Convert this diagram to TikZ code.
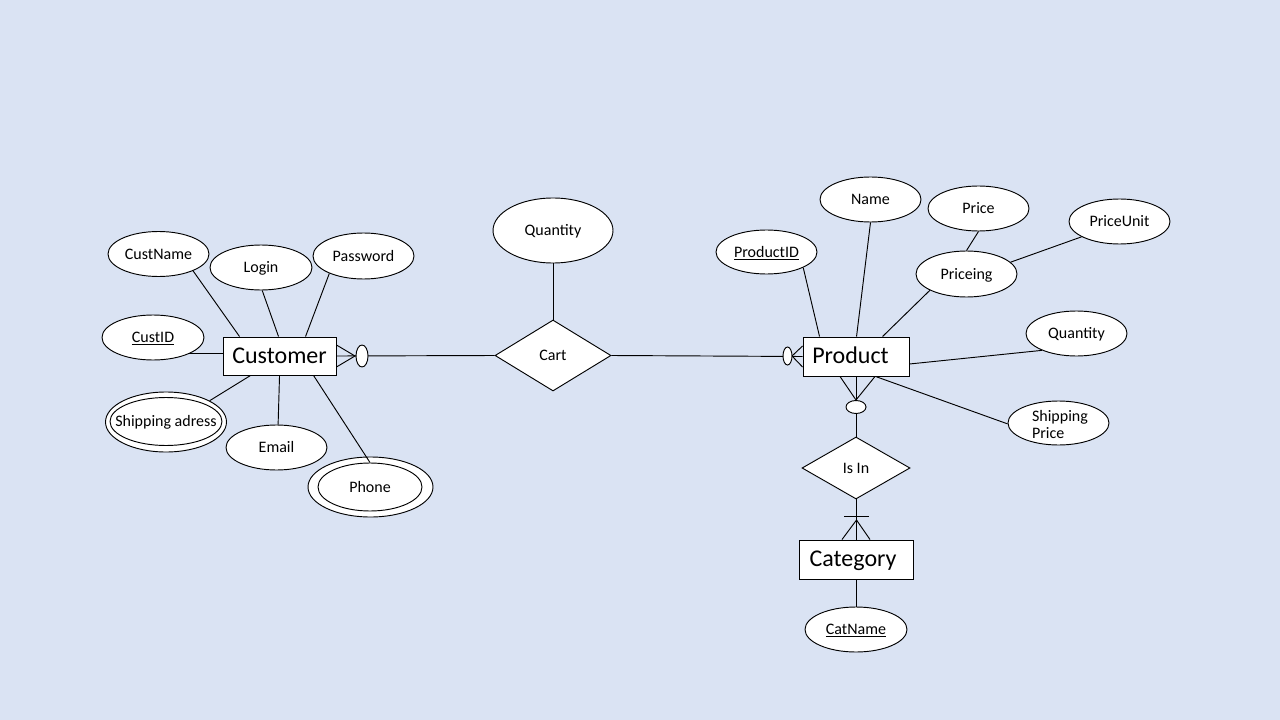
\documentclass[tikz,border=0pt]{standalone}
\usepackage{fontspec}
\setmainfont{Carlito}
\usetikzlibrary{shapes.geometric,calc}
\definecolor{bg}{RGB}{218,227,243}
\newdimen\px \px=0.75pt
\begin{document}
\begin{tikzpicture}[x=0.75pt,y=-0.75pt, line width=0.7pt,
 txs/.style={text height=9.9pt,text depth=2.1pt},
 txl/.style={text height=14.4pt,text depth=3.6pt},
 attrbase/.style={ellipse,draw,fill=white,minimum width=101\px,minimum height=45\px,inner sep=0pt,font=\fontsize{12}{14.4}\selectfont},
 attr/.style={attrbase,txs},
 ent/.style={rectangle,draw,fill=white,inner sep=0pt,font=\fontsize{18}{22}\selectfont,txl},
 rel/.style={diamond,draw,fill=white,inner sep=0pt,font=\fontsize{12}{14}\selectfont,txs},
 opt/.style={ellipse,draw,fill=white,inner sep=0pt}
 ]
\fill[bg] (0,0) rectangle (1280,720);
\useasboundingbox (0,0) rectangle (1280,720);

% relationships and entities
\node[rel,minimum width=116\px,minimum height=71\px] (Cart) at (553,355.5) {Cart};
\node[rel,minimum width=108\px,minimum height=62\px] (IsIn) at (856,468) {Is In};
\node[ent,minimum width=113\px,minimum height=38\px] (Customer) at (279.5,356) {Customer};
\node[ent,minimum width=106\px,minimum height=39\px] (Product) at (856,356.5) {\kern-11\px Product};
\node[ent,minimum width=114\px,minimum height=39\px] (Category) at (856,559.5) {\kern-6\px Category};

\draw (Customer.east) -- (Cart.west);
\draw (Cart.east) -- (Product.west);
\draw (Product.south) -- (IsIn.north);
\draw (IsIn.south) -- (Category.north);

% crow's feet
\coordinate (cfA) at (355,356);
\draw ($(Customer.east)+(0,-11)$) -- (cfA) -- ($(Customer.east)+(0,11)$);
\node[opt,minimum width=12\px,minimum height=22\px] (Opt1) at (362,356) {};

\coordinate (cfB) at (792,356);
\draw ($(Product.west)+(0,-10.5)$) -- (cfB) -- ($(Product.west)+(0,10.5)$);
\node[opt,minimum width=9\px,minimum height=18\px] (Opt2) at (787.5,356) {};

\coordinate (cfC) at (856,400);
\draw ($(Product.south)+(-16,0)$) -- (cfC) -- ($(Product.south)+(19,0)$);
\node[opt,minimum width=20\px,minimum height=13\px] (Opt3) at (856,407) {};

\coordinate (cfD) at (856.5,520);
\draw ($(Category.north)+(-14,0)$) -- (cfD) -- ($(Category.north)+(14,0)$);
\draw (844,516) -- (869,516);

% Cart attribute
\node[attr,minimum width=120\px,minimum height=65\px] (QtyCart) at (553,230.5) {Quantity};
\draw (QtyCart.south) -- (Cart.north);

% Customer attributes
\node[attr] (CustName) at (158.5,254) {CustName};
\node[attr,minimum width=102\px] (Login) at (261,267.5) {Login};
\node[attr,minimum height=46\px] (Password) at (363.5,256) {Password};
\node[attr,minimum width=102\px] (CustID) at (153,337.5) {\underline{CustID}};
\node[attr] (Email) at (276.5,447.5) {Email};
\node[opt,minimum width=121\px,minimum height=60\px] (ShipOut) at (166,422) {};
\node[attr,minimum width=112\px,minimum height=48\px] (ShipIn) at (166,421.5) {\makebox[0pt]{Shipping adress}};
\node[opt,minimum width=125\px,minimum height=60\px] (PhoneOut) at (370.5,487) {};
\node[attr,minimum width=104\px,minimum height=48\px] (PhoneIn) at (370,487) {Phone};

\draw (CustName.334) -- ($(Customer.north west)+(17,0)$);
\draw (Login.273) -- ($(Customer.north west)+(56,0)$);
\draw (Password.207) -- ($(Customer.north west)+(83,0)$);
\draw (CustID.336) -- (CustID.336 -| Customer.west);
\draw (ShipOut.26) -- ($(Customer.south west)+(28,0)$);
\draw (Email.86) -- ($(Customer.south west)+(57,0)$);
\draw (PhoneIn.north) -- ($(Customer.south west)+(91,0)$);

% Product attributes
\node[attr,minimum height=44\px] (ProductID) at (766.5,252) {\underline{ProductID}};
\node[attr] (Name) at (870.5,199.5) {Name};
\node[attr] (Price) at (978.5,208.5) {Price};
\node[attr,minimum height=46\px] (Priceing) at (966.5,274) {Priceing};
\node[attr] (PriceUnit) at (1119.5,221.5) {PriceUnit};
\node[attr] (QtyProd) at (1076.5,333.5) {Quantity};
\node[attrbase,minimum height=44\px] (ShipPrice) at (1058.5,423) {\makebox[0pt]{\smash{\raisebox{-7.75\px}{\kern3\px\fontsize{12}{13.1}\selectfont\begin{tabular}{@{}l@{}}Shipping\\Price\end{tabular}}}}};
\node[attr,minimum width=102\px] (CatName) at (856,629.5) {\underline{CatName}};

\draw (ProductID.337) -- ($(Product.north west)+(17,0)$);
\draw (Name.south) -- ($(Product.north west)+(54,0)$);
\draw (Price.south) -- (Priceing.north);
\draw (Priceing.204) -- ($(Product.north west)+(80,0)$);
\draw (Priceing.15) -- (PriceUnit.202);
\draw (QtyProd.206) -- ($(Product.east)+(0,7.5)$);
\draw (ShipPrice.181) -- ($(Product.south west)+(73,0)$);
\draw (Category.south) -- (CatName.north);
\end{tikzpicture}
\end{document}
